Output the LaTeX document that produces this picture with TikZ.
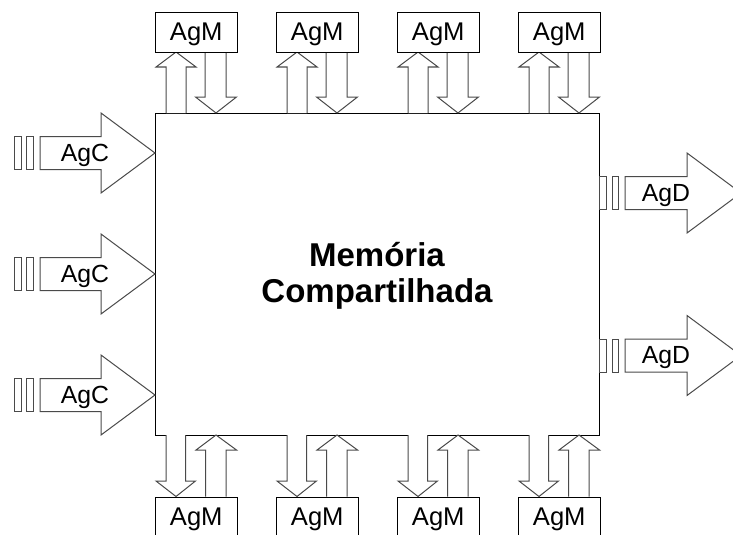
\documentclass[tikz,border=0pt]{standalone}
\usepackage{fontspec}
\setmainfont{Liberation Sans}
\definecolor{arrline}{HTML}{4A4A4A}
\begin{document}
\begin{tikzpicture}[x=1pt,y=-1pt,line width=1pt,
  arr/.style={draw=arrline,fill=white,line join=miter},
  agm/.style={draw=black,fill=white,minimum width=81.5pt,minimum height=40pt,inner sep=0pt,
    text height=18.3pt,text depth=2pt,anchor=north west,font=\fontsize{25.6}{30}\selectfont},
  lbl/.style={inner sep=0pt,anchor=base,font=\fontsize{24.8}{30}\selectfont},
  ttl/.style={inner sep=0pt,anchor=base,font=\bfseries\fontsize{33}{37}\selectfont}]
\useasboundingbox (0,0) rectangle (733,535);
\clip (0,0) rectangle (733,535);

% shared memory
\node[draw=black,fill=white,minimum width=444pt,minimum height=322pt,inner sep=0pt,anchor=north west] (mem) at (155,113) {};
\node[ttl] (t1) at (377,266) {Memória};
\node[ttl] (t2) at (377,302.7) {Compartilhada};

% top AgM
\foreach \L [count=\i] in {155,276,397,518}{
  \draw[arr] (\L+11,113) -- (\L+11,67) -- (\L+1,67) -- (\L+21,52) -- (\L+41,67) -- (\L+31,67) -- (\L+31,113);
  \draw[arr] (\L+50,52) -- (\L+50,97) -- (\L+40.5,97) -- (\L+61,113) -- (\L+81.5,97) -- (\L+71,97) -- (\L+71,52);
  \node[agm] (top\i) at (\L,12) {AgM};
}
% bottom AgM
\foreach \L [count=\i] in {155,276,397,518}{
  \draw[arr] (\L+11,435) -- (\L+11,481) -- (\L+1,481) -- (\L+21,496.5) -- (\L+40.5,481) -- (\L+30.5,481) -- (\L+30.5,435);
  \draw[arr] (\L+50.5,496.5) -- (\L+50.5,450) -- (\L+41,450) -- (\L+61,435) -- (\L+81.5,450) -- (\L+71,450) -- (\L+71,496.5);
  \node[agm] (bot\i) at (\L,496.5) {AgM};
}
% AgC inputs
\foreach \c [count=\i] in {153,274,395}{
  \draw[arr] (14.7,\c-16.5) rectangle (21,\c+16.5);
  \draw[arr] (26.7,\c-16.5) rectangle (33.3,\c+16.5);
  \draw[arr] (40,\c-16.5) -- (101,\c-16.5) -- (101,\c-40) -- (155,\c) -- (101,\c+40) -- (101,\c+16.5) -- (40,\c+16.5) -- cycle;
  \node[lbl] (agc\i) at (85,\c+8) {AgC};
}
% AgD outputs
\foreach \c [count=\i] in {193,355.5}{
  \draw[arr] (599.5,\c-16.5) rectangle (606,\c+16.5);
  \draw[arr] (612,\c-16.5) rectangle (618.5,\c+16.5);
  \draw[arr] (625,\c-16.5) -- (687,\c-16.5) -- (687,\c-40) -- (741,\c) -- (687,\c+40) -- (687,\c+16.5) -- (625,\c+16.5) -- cycle;
  \node[lbl] (agd\i) at (666,\c+8) {AgD};
}
\end{tikzpicture}
\end{document}
